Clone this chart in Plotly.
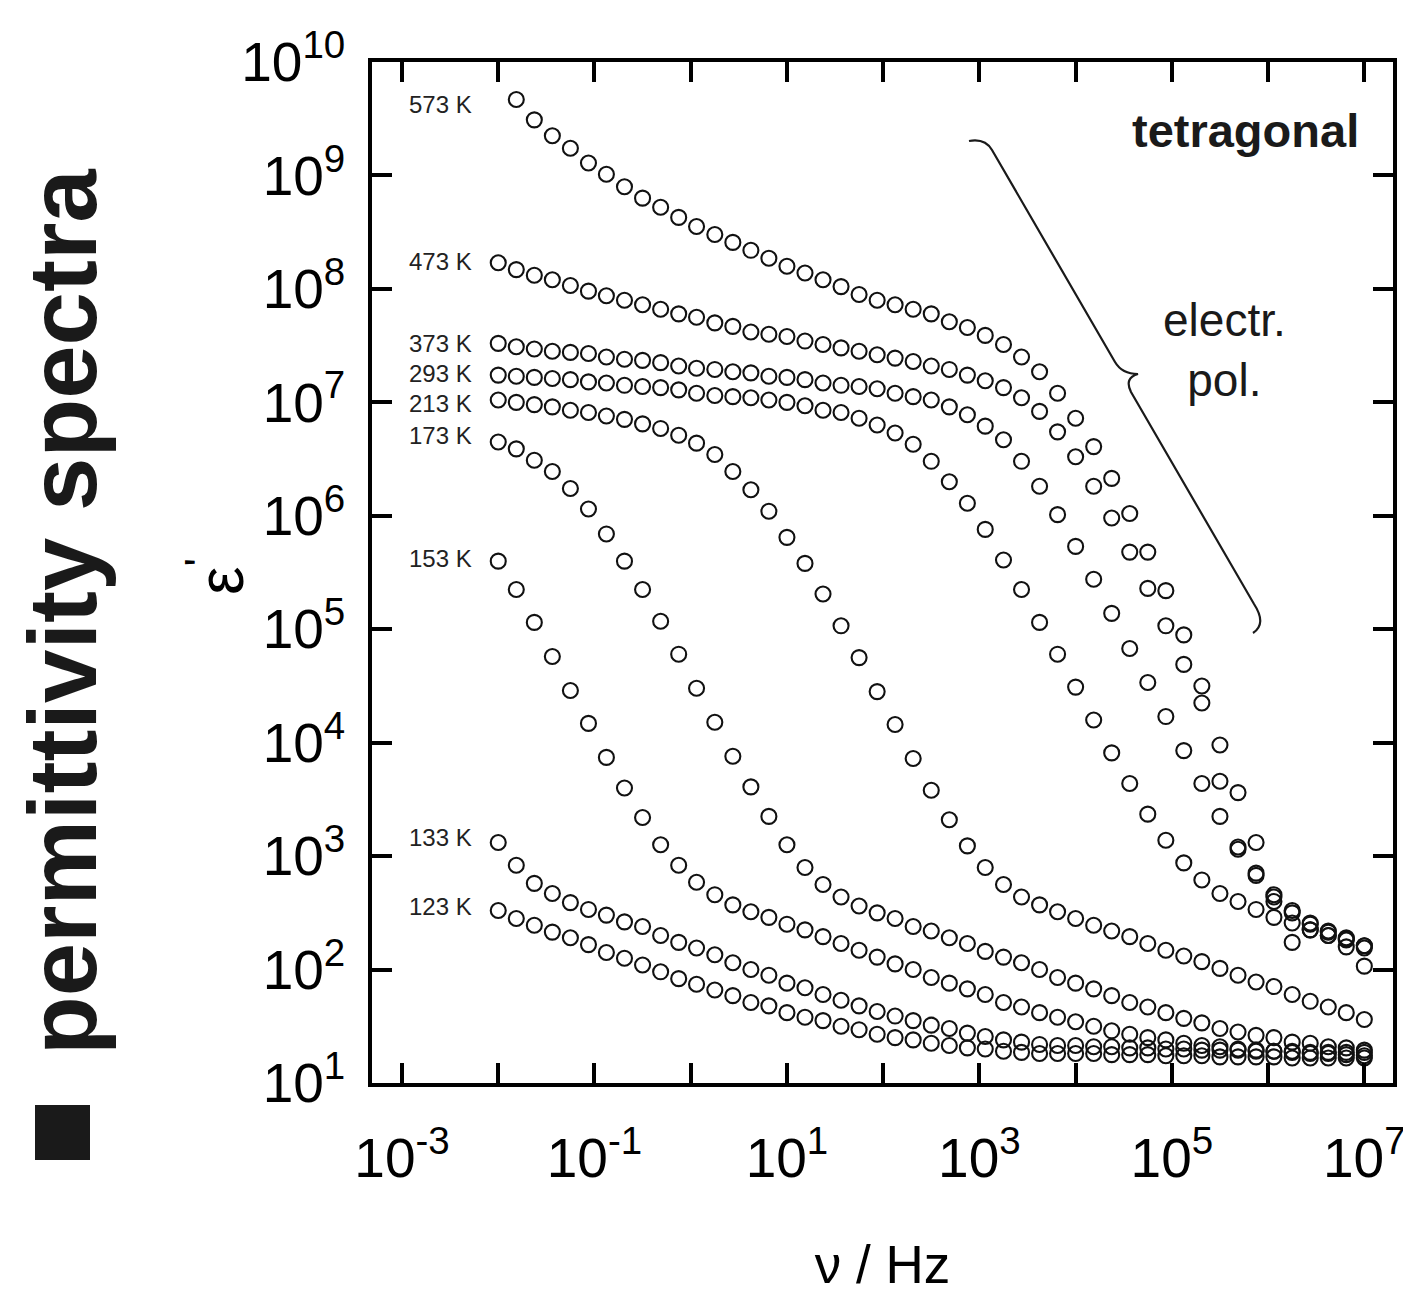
import math
import plotly.graph_objects as go

# ---------------- data ----------------
# measuring frequencies, Hz (same grid for every temperature)
freq_hz = [0.01, 0.0154, 0.0237, 0.0365, 0.0562, 0.0866, 0.133, 0.205, 0.316, 0.487,
           0.750, 1.15, 1.78, 2.74, 4.22, 6.49, 10.0, 15.4, 23.7, 36.5,
           56.2, 86.6, 133, 205, 316, 487, 750, 1150, 1780, 2740,
           4220, 6490, 1.0e4, 1.54e4, 2.37e4, 3.65e4, 5.62e4, 8.66e4, 1.33e5, 2.05e5,
           3.16e5, 4.87e5, 7.50e5, 1.15e6, 1.78e6, 2.74e6, 4.22e6, 6.49e6, 1.0e7]

temperatures = ["573 K", "473 K", "373 K", "293 K", "213 K", "173 K", "153 K", "133 K", "123 K"]

# log10(epsilon')
log10_eps_573K = [None, 9.67, 9.49, 9.35, 9.24, 9.11, 9.01, 8.90, 8.80, 8.72,
                  8.63, 8.55, 8.48, 8.41, 8.34, 8.27, 8.20, 8.14, 8.08, 8.02,
                  7.95, 7.90, 7.86, 7.82, 7.78, 7.71, 7.66, 7.59, 7.51, 7.40,
                  7.27, 7.08, 6.86, 6.61, 6.33, 6.02, 5.68, 5.34, 4.95, 4.50,
                  3.98, 3.56, 3.12, 2.66, 2.24, 2.35, 2.30, 2.20, 2.03]
log10_eps_473K = [8.23, 8.17, 8.12, 8.08, 8.03, 7.98, 7.94, 7.90, 7.86, 7.82,
                  7.78, 7.75, 7.70, 7.67, 7.62, 7.60, 7.58, 7.54, 7.51, 7.48,
                  7.45, 7.42, 7.39, 7.36, 7.32, 7.29, 7.24, 7.19, 7.13, 7.04,
                  6.92, 6.74, 6.52, 6.26, 5.98, 5.68, 5.36, 5.03, 4.69, 4.35,
                  3.66, 3.06, 2.83, 2.60, 2.50, 2.40, 2.33, 2.27, 2.19]
log10_eps_373K = [7.52, 7.49, 7.47, 7.45, 7.44, 7.43, 7.40, 7.38, 7.37, 7.35,
                  7.32, 7.30, 7.29, 7.27, 7.26, 7.23, 7.22, 7.20, 7.17, 7.15,
                  7.14, 7.12, 7.08, 7.05, 7.02, 6.96, 6.89, 6.79, 6.67, 6.48,
                  6.26, 6.01, 5.73, 5.44, 5.14, 4.83, 4.53, 4.23, 3.93, 3.64,
                  3.35, 3.08, 2.85, 2.64, 2.52, 2.41, 2.34, 2.28, 2.21]
log10_eps_293K = [7.24, 7.23, 7.22, 7.21, 7.20, 7.18, 7.17, 7.15, 7.14, 7.13,
                  7.11, 7.08, 7.06, 7.05, 7.04, 7.02, 7.00, 6.97, 6.93, 6.91,
                  6.86, 6.80, 6.73, 6.63, 6.48, 6.30, 6.11, 5.88, 5.61, 5.35,
                  5.06, 4.78, 4.49, 4.20, 3.91, 3.64, 3.37, 3.14, 2.94, 2.79,
                  2.67, 2.60, 2.53, 2.46, 2.41, 2.35, 2.30, 2.26, 2.21]
log10_eps_213K = [7.02, 7.00, 6.98, 6.96, 6.93, 6.91, 6.88, 6.85, 6.81, 6.77,
                  6.71, 6.64, 6.54, 6.39, 6.23, 6.04, 5.81, 5.58, 5.31, 5.03,
                  4.75, 4.45, 4.16, 3.86, 3.58, 3.32, 3.09, 2.90, 2.75, 2.64,
                  2.57, 2.51, 2.45, 2.39, 2.34, 2.29, 2.23, 2.17, 2.12, 2.07,
                  2.01, 1.95, 1.89, 1.85, 1.78, 1.72, 1.67, 1.62, 1.56]
log10_eps_173K = [6.65, 6.59, 6.49, 6.39, 6.24, 6.06, 5.84, 5.60, 5.35, 5.07,
                  4.78, 4.48, 4.18, 3.88, 3.61, 3.35, 3.10, 2.90, 2.75, 2.64,
                  2.56, 2.50, 2.45, 2.38, 2.34, 2.28, 2.23, 2.16, 2.11, 2.06,
                  2.00, 1.93, 1.88, 1.83, 1.77, 1.71, 1.67, 1.62, 1.57, 1.53,
                  1.48, 1.45, 1.42, 1.40, 1.36, 1.35, 1.32, 1.31, 1.29]
log10_eps_153K = [5.60, 5.35, 5.06, 4.76, 4.46, 4.17, 3.87, 3.60, 3.34, 3.10,
                  2.92, 2.77, 2.66, 2.57, 2.51, 2.46, 2.40, 2.35, 2.29, 2.23,
                  2.17, 2.11, 2.05, 2.00, 1.93, 1.88, 1.83, 1.78, 1.71, 1.67,
                  1.62, 1.58, 1.54, 1.50, 1.46, 1.43, 1.40, 1.38, 1.35, 1.33,
                  1.32, 1.30, 1.29, 1.28, 1.27, 1.26, 1.26, 1.25, 1.24]
log10_eps_133K = [3.12, 2.92, 2.76, 2.67, 2.59, 2.53, 2.48, 2.42, 2.38, 2.30,
                  2.24, 2.19, 2.13, 2.06, 2.00, 1.95, 1.88, 1.84, 1.78, 1.73,
                  1.68, 1.63, 1.59, 1.55, 1.51, 1.48, 1.44, 1.41, 1.38, 1.36,
                  1.34, 1.33, 1.33, 1.32, 1.32, 1.31, 1.31, 1.30, 1.30, 1.29,
                  1.29, 1.29, 1.28, 1.28, 1.28, 1.27, 1.27, 1.27, 1.27]
log10_eps_123K = [2.52, 2.45, 2.39, 2.33, 2.28, 2.22, 2.15, 2.10, 2.04, 1.98,
                  1.92, 1.87, 1.82, 1.77, 1.71, 1.68, 1.62, 1.58, 1.55, 1.50,
                  1.47, 1.43, 1.40, 1.38, 1.35, 1.33, 1.31, 1.30, 1.28, 1.27,
                  1.26, 1.26, 1.26, 1.26, 1.25, 1.25, 1.25, 1.24, 1.24, 1.24,
                  1.23, 1.23, 1.23, 1.23, 1.22, 1.22, 1.22, 1.22, 1.22]

series = [log10_eps_573K, log10_eps_473K, log10_eps_373K, log10_eps_293K, log10_eps_213K,
          log10_eps_173K, log10_eps_153K, log10_eps_133K, log10_eps_123K]

x_tick_exponents = list(range(-3, 8))
y_tick_exponents = list(range(1, 11))

# ---------------- layout constants ----------------
# the page has an 8 px body margin, so the figure is 8 px smaller and offset
OFF = 8
W, H = 1411 - OFF, 1294 - OFF
PL, PT, PR, PB = 372, 62, 1393, 1083          # plot area in page pixels
ML, MT = PL - OFF, PT - OFF
MR, MB = W + OFF - PR, H + OFF - PB
PW, PH = PR - PL, PB - PT
FONT = "Liberation Sans, Arial, Helvetica, sans-serif"
INK = "#111111"


def pp(px, py):
    """page pixel position -> paper coordinates"""
    return (px - PL) / PW, (PB - py) / PH


fig = go.Figure()
for name, vals in zip(temperatures, series):
    fig.add_trace(go.Scatter(
        x=freq_hz,
        y=[None if v is None else 10 ** v for v in vals],
        mode="markers", name=name, showlegend=False,
        marker=dict(symbol="circle-open", size=15, color=INK, line=dict(width=2.1, color=INK)),
        cliponaxis=False,
    ))

# temperature labels next to the first point of every curve
label_yshift = [-5, 1, 0, 2, -3, 7, 3, 5, 4]
for name, vals, ys in zip(temperatures, series, label_yshift):
    first = next(v for v in vals if v is not None)
    fig.add_annotation(x=math.log10(freq_hz[0]), y=first, xref="x", yref="y",
                       text=name, showarrow=False, xanchor="right", yanchor="middle",
                       xshift=-24, yshift=ys,
                       font=dict(family=FONT, size=24, color="#222222"))

# other texts
fig.add_annotation(x=pp(1361, 131)[0], y=pp(1361, 131)[1], xref="paper", yref="paper",
                   text="<b>tetragonal</b>", showarrow=False, xanchor="right", yanchor="middle",
                   font=dict(family=FONT, size=47, color="#1a1a1a"))
fig.add_annotation(x=pp(1224, 350)[0], y=pp(1224, 350)[1], xref="paper", yref="paper",
                   text="electr.<br>pol.", showarrow=False, xanchor="center", yanchor="middle",
                   font=dict(family=FONT, size=46, color="#1a1a1a"))
fig.add_annotation(x=pp(62, 612)[0], y=pp(62, 612)[1], xref="paper", yref="paper",
                   text="<b>permittivity spectra</b>", showarrow=False, textangle=-90,
                   xanchor="center", yanchor="middle",
                   font=dict(family=FONT, size=96, color="#1a1a1a"))
# y axis title (epsilon prime), rotated like the reference
fig.add_annotation(x=pp(216, 577)[0], y=pp(216, 577)[1], xref="paper", yref="paper",
                   text="ε<sup>'</sup>", showarrow=False, textangle=-90,
                   xanchor="center", yanchor="middle",
                   font=dict(family=FONT, size=64, color="black"))

# black square bullet
sq0 = pp(35, 1160)
sq1 = pp(90, 1105)
fig.add_shape(type="rect", xref="paper", yref="paper", x0=sq0[0], y0=sq0[1], x1=sq1[0], y1=sq1[1],
              fillcolor="#1a1a1a", line=dict(width=0))

# curly brace
brace = [("M", [(969, 141)]), ("Q", [(985, 138), (992, 150)]), ("L", [(1115, 362)]),
         ("Q", [(1122, 374), (1138, 374)]), ("Q", [(1124, 378), (1131, 392)]),
         ("L", [(1254, 604)]), ("Q", [(1267, 624), (1253, 633)])]
path = ""
for cmd, pts in brace:
    path += cmd + " " + " ".join("%.5f,%.5f" % pp(*p) for p in pts) + " "
fig.add_shape(type="path", xref="paper", yref="paper", path=path.strip(),
              line=dict(color="#1a1a1a", width=2.2))

axis_common = dict(
    type="log", showgrid=False, zeroline=False,
    showline=True, linewidth=3.5, linecolor="black", mirror="ticks",
    ticks="inside", ticklen=20, tickwidth=3.5, tickcolor="black",
    tickfont=dict(family=FONT, size=55, color="black"),
)

fig.update_layout(
    width=W, height=H,
    margin=dict(l=ML, r=MR, t=MT, b=MB, autoexpand=False),
    paper_bgcolor="white", plot_bgcolor="white",
    xaxis=dict(
        **axis_common,
        range=[-3.312, 7.298],
        tickvals=[10 ** e for e in x_tick_exponents],
        ticktext=[("10<sup>%d</sup>" % e) if e % 2 else "" for e in x_tick_exponents],
        ticklabelstandoff=24,
        title=dict(text="ν / Hz", font=dict(family=FONT, size=53, color="black"), standoff=62),
    ),
    yaxis=dict(
        **axis_common,
        range=[1, 10],
        tickvals=[10 ** e for e in y_tick_exponents],
        ticktext=["10<sup>%d</sup>" % e for e in y_tick_exponents],
        ticklabelstandoff=12,
    ),
)

fig.write_html("out.html")
